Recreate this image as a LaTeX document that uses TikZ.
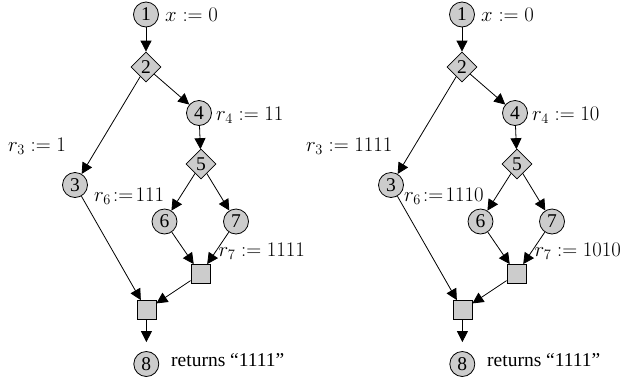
\documentclass[tikz,border=0pt]{standalone}
\usepackage{fontspec}
\setmainfont{Liberation Serif}
\usetikzlibrary{shapes.geometric,arrows.meta}
\tikzset{
  cnode/.style={circle,draw,fill=black!20,line width=0.8pt,minimum size=25pt,inner sep=0pt},
  dnode/.style={diamond,draw,fill=black!20,line width=0.8pt,minimum size=30pt,inner sep=0pt},
  snode/.style={rectangle,draw,fill=black!20,line width=0.8pt,minimum size=19pt,inner sep=0pt},
  edge/.style={line width=0.8pt,-{Triangle[length=11pt,width=11pt]}},
  lbl/.style={anchor=base west,inner sep=0pt}
}
\newcommand\cfgraph[1]{%
  \node[cnode] (#1n1) at (146,14.5) {1};
  \node[dnode] (#1n2) at (146,67) {2};
  \node[cnode] (#1n4) at (199,113) {4};
  \node[dnode] (#1n5) at (201,164) {5};
  \node[cnode] (#1n3) at (75,185) {3};
  \node[cnode] (#1n6) at (164.5,221.5) {6};
  \node[cnode] (#1n7) at (236,221.5) {7};
  \node[snode] (#1s1) at (200.5,274) {};
  \node[snode] (#1s2) at (146.5,310) {};
  \node[cnode] (#1n8) at (146.3,364) {8};
  \draw[edge] (#1n1) -- (#1n2);
  \draw[edge] (#1n2) -- (#1n4);
  \draw[edge] (#1n2) -- (#1n3);
  \draw[edge] (#1n4) -- (#1n5);
  \draw[edge] (#1n5) -- (#1n6);
  \draw[edge] (#1n5) -- (#1n7);
  \draw[edge] (#1n6) -- (#1s1);
  \draw[edge] (#1n7) -- (#1s1);
  \draw[edge] (#1n3) -- (#1s2);
  \draw[edge] (#1s1) -- (#1s2);
  \draw[edge,shorten >=9pt] (#1s2) -- (#1n8);
}
\begin{document}
\begin{tikzpicture}[x=1pt,y=-1pt,font=\fontsize{19.5}{23}\selectfont]
\useasboundingbox (0,0) rectangle (644,381);
\begin{scope}
\cfgraph{a}
\end{scope}
\begin{scope}[xshift=316pt]
\cfgraph{b}
\end{scope}
% left labels
\node[lbl] (ax) at (165,21.5) {$x := 0$};
\node[lbl] (ar4) at (216,120) {$r_4 := 11$};
\node[lbl] (ar3) at (8,151.5) {$r_3 := 1$};
\node[lbl] (ar6) at (94,201.5) {$r_6\!:=\!111$};
\node[lbl] (ar7) at (218.5,256.5) {$r_7 := 1111$};
\node[lbl] (aret) at (171,366) {returns “1111”};
% right labels
\node[lbl] (bx) at (481,21.5) {$x := 0$};
\node[lbl] (br4) at (532,120) {$r_4 := 10$};
\node[lbl] (br3) at (306,151.5) {$r_3 := 1111$};
\node[lbl] (br6) at (404,201.5) {$r_6\!:=\!1110$};
\node[lbl] (br7) at (534.5,256.5) {$r_7 := 1010$};
\node[lbl] (bret) at (487,366) {returns “1111”};
\end{tikzpicture}
\end{document}
